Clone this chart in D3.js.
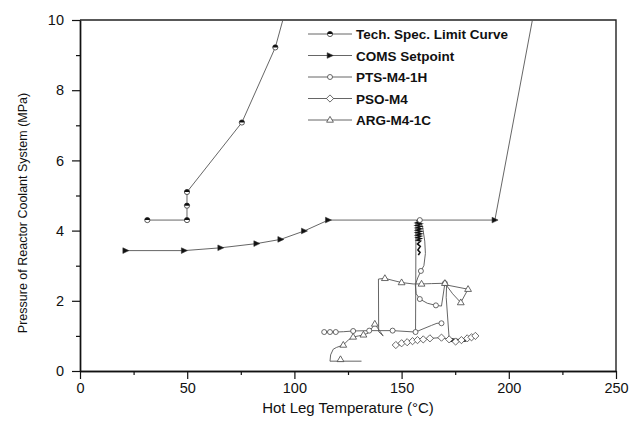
<!DOCTYPE html>
<html>
<head>
<meta charset="utf-8">
<script src="https://cdn.jsdelivr.net/npm/d3@7"></script>
<style>
body { margin: 0; background: #fff; }
text { font-family: Arial, "Liberation Sans", sans-serif; }
</style>
</head>
<body>
<svg id="chart" width="640" height="427"></svg>
<script>

// Tech. Spec. limit curve (temperature, pressure)
var techSpecLine = [[31.4,4.30],[49.9,4.30],[49.9,4.71],[49.9,5.10],[75.5,7.08],[91.1,9.22],[100,11.2]];
var techSpecMarks = [[31.4,4.30],[49.9,4.30],[49.9,4.71],[49.9,5.10],[75.5,7.08],[91.1,9.22]];

// COMS setpoint
var comsLine = [[21.3,3.43],[48.6,3.43],[65.6,3.51],[82.4,3.63],[93.6,3.75],[104.6,3.99],[115.8,4.30],[193.5,4.30],[215,11.3]];
var comsMarks = [[21.3,3.43],[48.6,3.43],[65.6,3.51],[82.4,3.63],[93.6,3.75],[104.6,3.99],[115.8,4.30],[193.5,4.30]];

// PTS-M4-1H trajectory
var ptsLine = [[113.9,1.11],[116.6,1.11],[119.3,1.11],[123,1.12],[127.4,1.14],[134.9,1.15],[145.8,1.15],[156.5,1.11],
  [156.6,2.5],[156.7,4.25],
  null,
  [158.5,4.30],[159.8,4.10],[160.8,3.70],[161.1,3.35],[160.4,3.00],[159.0,2.85],[157.5,2.65],[156.4,2.45],
  [156.8,2.20],[158.5,2.05],[162,1.93],[166,1.87],[168.6,1.85],[170.2,2.5],
  null,
  [156.5,1.11],[160,1.20],[164,1.30],[166.5,1.36],[168.6,1.36]];
// PTS-M4-1H pressure oscillation right after the start (dense part)
var ptsBand = [[156.9,4.28],[158.9,4.26],[156.9,4.22],[159.0,4.19],[156.9,4.15],[159.0,4.12],[157.0,4.08],[159.0,4.05],
  [157.0,4.01],[159.0,3.98],[157.0,3.94],[159.0,3.91],[157.0,3.87],[158.9,3.84],[157.1,3.80],[158.9,3.77],
  [157.2,3.73],[158.8,3.70],[157.4,3.62],[158.7,3.55],[157.6,3.45],[158.6,3.38],[157.8,3.30]];
var ptsMarks = [[113.9,1.11],[116.6,1.11],[119.3,1.11],[127.4,1.14],[134.9,1.15],[145.8,1.15],[156.5,1.11],
  [158.5,4.30],[159.0,2.85],[158.5,2.05],[166,1.87],[168.6,1.36],[170.2,2.5]];

// PSO-M4 trajectory
var psoLine = [[147.3,0.74],[150,0.79],[152.6,0.82],[155.1,0.85],[157.4,0.88],[160.1,0.90],[163.2,0.93],[168.6,0.95],
  [172.2,0.90],[175.2,0.84],[177.9,0.88],[180.6,0.93],[182.6,0.96],[184.4,1.00]];
var psoMarks = psoLine;

// ARG-M4-1C trajectory
var argLine = [[131.3,0.28],[116.6,0.28],[116.9,0.46],[118.1,0.62],[119.6,0.67],[122.8,0.74],[125.1,0.88],[127.4,0.97],
  [130,1.00],[132.2,1.03],[134.5,1.08],[137.5,1.34],[141.4,1.00],[139.3,1.12],[139.2,2.62],[142.2,2.64],[146,2.58],
  [150,2.52],[155.4,2.48],[159.3,2.48],[164,2.49],[170.2,2.50],[173.8,2.20],[177.6,1.95],[181,2.33],[171,2.45],
  [170.8,2.10],[172.2,0.91]];
// ARG-M4-1C oscillation at the end (dense part)
var argBand = [[172.2,0.91],[173,0.86],[180,0.88],[173,0.90],[180,0.85],[173,0.87],[179.5,0.90],[172.5,0.85],[179,0.87]];
var argMarks = [[121.5,0.33],[122.8,0.74],[127.4,0.97],[132.2,1.03],[137.5,1.34],[142.2,2.64],[150,2.52],
  [159.3,2.48],[170.2,2.50],[177.6,1.95],[181,2.33]];

var xMajor = [0, 50, 100, 150, 200, 250];
var xMinor = [25, 75, 125, 175, 225];
var yMajor = [0, 2, 4, 6, 8, 10];
var yMinor = [1, 3, 5, 7, 9];

var legendNames = ["Tech. Spec. Limit Curve", "COMS Setpoint", "PTS-M4-1H", "PSO-M4", "ARG-M4-1C"];
var legendSymbols = ["half", "tri-right", "circle", "diamond", "tri-up"];

var margin = {left: 80, top: 20, right: 24, bottom: 56};
var width = 640 - margin.left - margin.right;
var height = 427 - margin.top - margin.bottom;

var svg = d3.select("#chart");
var g = svg.append("g").attr("transform", "translate(" + margin.left + "," + margin.top + ")");

var x = d3.scaleLinear().domain([0, 250]).range([0, width]);
var y = d3.scaleLinear().domain([0, 10]).range([height, 0]);

svg.append("defs").append("clipPath").attr("id", "plot-clip")
  .append("rect").attr("width", width).attr("height", height);

// axes
function styleAxis(sel) {
  sel.select(".domain").attr("stroke", "#111").attr("stroke-width", 1.4);
  sel.selectAll(".tick line").attr("stroke", "#111").attr("stroke-width", 1.2);
  sel.selectAll("text").attr("font-size", 14.5).attr("fill", "#111")
    .style("font-family", "Arial, 'Liberation Sans', sans-serif");
}

g.append("g").attr("transform", "translate(0," + height + ")")
  .call(d3.axisBottom(x).tickValues(xMinor).tickSize(4).tickSizeOuter(0).tickFormat(""))
  .call(styleAxis);
g.append("g").attr("transform", "translate(0," + height + ")")
  .call(d3.axisBottom(x).tickValues(xMajor).tickSize(8).tickSizeOuter(0).tickPadding(4))
  .call(styleAxis);
g.append("g")
  .call(d3.axisLeft(y).tickValues(yMinor).tickSize(4).tickSizeOuter(0).tickFormat(""))
  .call(styleAxis);
g.append("g")
  .call(d3.axisLeft(y).tickValues(yMajor).tickSize(8).tickSizeOuter(0).tickPadding(8))
  .call(styleAxis);

// top + right frame
g.append("path")
  .attr("d", "M0,0H" + width + "V" + height)
  .attr("fill", "none").attr("stroke", "#222").attr("stroke-width", 1.4);

// axis titles
svg.append("text")
  .attr("x", margin.left + width / 2).attr("y", 413)
  .attr("text-anchor", "middle").attr("font-size", 15).attr("fill", "#111")
  .text("Hot Leg Temperature (°C)");
svg.append("text")
  .attr("transform", "translate(27,213) rotate(-90)")
  .attr("text-anchor", "middle").attr("font-size", 12.5).attr("fill", "#111")
  .text("Pressure of Reactor Coolant System (MPa)");

// lines
var line = d3.line()
  .defined(function(d) { return d !== null; })
  .x(function(d) { return x(d[0]); })
  .y(function(d) { return y(d[1]); });

var plot = g.append("g").attr("clip-path", "url(#plot-clip)");

[techSpecLine, comsLine, ptsLine, psoLine, argLine].forEach(function(data) {
  plot.append("path").datum(data)
    .attr("d", line)
    .attr("fill", "none").attr("stroke", "#555").attr("stroke-width", 0.9);
});

// dense oscillating parts look almost solid black
[ptsBand, argBand].forEach(function(data) {
  plot.append("path").datum(data)
    .attr("d", line)
    .attr("fill", "none").attr("stroke", "#111").attr("stroke-width", 1.6);
});

// marker drawing
function drawSymbol(sel, type) {
  if (type === "half") {
    sel.append("circle").attr("r", 2.6).attr("fill", "#fff").attr("stroke", "#333").attr("stroke-width", 0.8);
    sel.append("path").attr("d", "M-2.6,0A2.6,2.6 0 0 1 2.6,0Z").attr("fill", "#111");
  } else if (type === "tri-right") {
    sel.append("path").attr("d", "M-2.8,-2.8L3.2,0L-2.8,2.8Z")
      .attr("fill", "#111").attr("stroke", "#333").attr("stroke-width", 0.6);
  } else if (type === "circle") {
    sel.append("circle").attr("r", 2.5).attr("fill", "#fff").attr("stroke", "#444").attr("stroke-width", 0.8);
  } else if (type === "diamond") {
    sel.append("path").attr("d", "M0,-3.6L3.6,0L0,3.6L-3.6,0Z")
      .attr("fill", "#fff").attr("stroke", "#444").attr("stroke-width", 0.8);
  } else if (type === "tri-up") {
    sel.append("path").attr("d", "M0,-3.6L3.4,2.2L-3.4,2.2Z")
      .attr("fill", "#fff").attr("stroke", "#444").attr("stroke-width", 0.8);
  }
}

var markSets = [
  {data: techSpecMarks, type: "half"},
  {data: comsMarks, type: "tri-right"},
  {data: psoMarks, type: "diamond"},
  {data: ptsMarks, type: "circle"},
  {data: argMarks, type: "tri-up"}
];

markSets.forEach(function(set) {
  plot.selectAll(null).data(set.data).enter().append("g")
    .attr("transform", function(d) { return "translate(" + x(d[0]) + "," + y(d[1]) + ")"; })
    .each(function() { drawSymbol(d3.select(this), set.type); });
});

// legend
var legend = g.append("g").attr("transform", "translate(228,14)");
legendNames.forEach(function(name, i) {
  var row = legend.append("g").attr("transform", "translate(0," + (i * 21.5) + ")");
  row.append("line").attr("x1", 0).attr("x2", 44).attr("y1", 0).attr("y2", 0)
    .attr("stroke", "#555").attr("stroke-width", 0.9);
  drawSymbol(row.append("g").attr("transform", "translate(22,0)"), legendSymbols[i]);
  row.append("text").attr("x", 48).attr("y", 5)
    .attr("font-size", 13.5).attr("font-weight", "bold").attr("fill", "#111")
    .text(name);
});

</script>
</body>
</html>
